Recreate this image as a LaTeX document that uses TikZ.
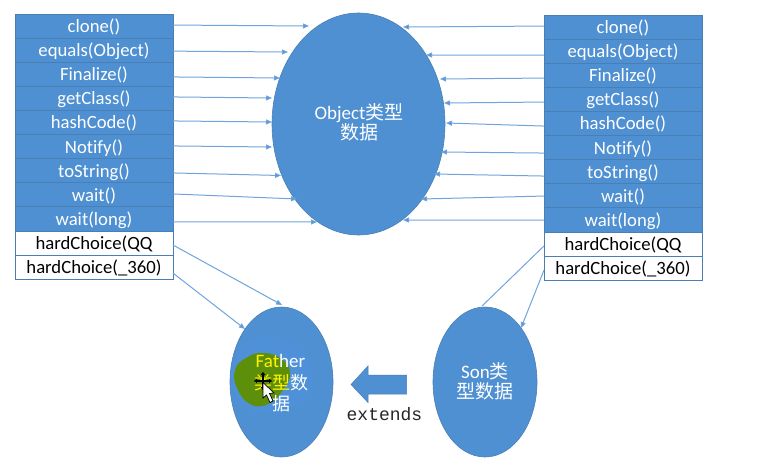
\documentclass[tikz,border=0pt]{standalone}
\usepackage{fontspec}
\setmainfont[Ligatures=NoCommon,Contextuals=NoAlternate]{Carlito}
\newfontfamily\cjkf{Noto Sans CJK SC}
\newfontfamily\monof{Liberation Mono}
\usetikzlibrary{arrows.meta,shapes.geometric}
\definecolor{fillb}{HTML}{4F90D2}
\definecolor{edgeb}{HTML}{4A7FB5}
\definecolor{lineb}{HTML}{6FA5DC}
\definecolor{blobg}{HTML}{5E8F0A}
\definecolor{halo}{HTML}{4E91D8}
\tikzset{
  x=1pt,y=-1pt,
  rowbase/.style={draw=edgeb,line width=0.8pt,minimum width=158pt,minimum height=24.1pt,inner sep=0pt,outer sep=0pt,font=\fontsize{18.7}{20}\selectfont,text height=15pt,text depth=2pt},
  rowblue/.style={rowbase,fill=fillb,text=white},
  rowwhite/.style={rowbase,fill=white,text=black},
  bubble/.style={ellipse,draw=edgeb,line width=0.6pt,fill=fillb,text=white,inner sep=0pt,outer sep=0pt,align=center},
  conn/.style={draw=lineb,line width=1pt,-{Triangle[length=6pt,width=5pt,fill=fillb]}},
  plainconn/.style={draw=lineb,line width=1pt},
  cjkt/.style={font=\fontsize{19}{20.5}\selectfont},
}
\begin{document}
\begin{tikzpicture}
\useasboundingbox (0,0) rectangle (760,463);
\fill[white] (0,0) rectangle (760,463);
% big ellipse
\node[bubble,minimum width=173pt,minimum height=222pt] (obj) at (358.5,124) {};
\node[text=white,cjkt,align=center] (objt) at (359,122.5) {Object{\cjkf 类型}\\{\cjkf 数据}};
% small ellipses
\node[bubble,minimum width=103pt,minimum height=150pt] (fa) at (281.5,382) {};
\node[bubble,minimum width=104pt,minimum height=150pt] (son) at (485,382) {};
\node[text=white,cjkt,align=center] (sont) at (485,381.5) {Son{\cjkf 类}\\{\cjkf 型数据}};
% tables
\foreach \i/\t [count=\n] in {1/clone(),2/equals(Object),3/Finalize(),4/getClass(),5/hashCode(),6/Notify(),7/toString(),8/wait(),9/wait(long)}{
  \node[rowblue] (l\i) at (94,14+12.05+24.1*\n-24.1) {\t};
  \node[rowblue] (r\i) at (623,15+12.05+24.1*\n-24.1) {\t};
}
\node[rowwhite] (l10) at (94,243) {hardChoice(QQ};
\node[rowwhite] (l11) at (94,267.1) {hardChoice(\_360)};
\node[rowwhite] (r10) at (623,244) {hardChoice(QQ};
\node[rowwhite] (r11) at (623,268.1) {hardChoice(\_360)};
% arrow ends
\foreach \nm/\x/\y in {la/309/26,lb/288/52,lc/280/78,ld/272/98,le/272/122,lf/272/147,lg/281/175.5,lh/297/199,li/317/222,lj/282/305,lk/245/329,
  ra/403/27,rb/426/55,rc/440/79,rd/444/103,re/446/123,rf/441/152,rg/434/174,rh/421/199,ri/403/220,rj/482/306,rk/521/328}
  \coordinate (\nm) at (\x,\y);
\foreach \a/\o/\e in {l1/1/la,l2/-1/lb,l3/-2.7/lc,l4/1.4/ld,l5/1.5/le,l6/0.6/lf,l7/-2.3/lg,l8/0.8/lh,l9/-3/li,l10/-2/lj,l11/-6/lk}
  \draw[conn] ([yshift=\o pt]\a.east) -- (\e);
\foreach \a/\o/\e in {r1/1/ra,r2/-3.9/rb,r3/-2.8/rc,r4/-2.7/rd,r5/-2.6/re,r6/-5.5/rf,r7/-4.4/rg,r8/-0.3/rh,r9/-0.2/ri,r11/-2/rk}
  \draw[conn] ([yshift=\o pt]\a.west) -- (\e);
\draw[plainconn] ([yshift=-2pt]r10.west) -- (rj);
% blob
\fill[halo] plot[smooth cycle,tension=0.8] coordinates {(238,352)(262,337)(295,345)(312,372)(303,398)(275,412)(244,405)(232,380)};
\fill[blobg] plot[smooth cycle,tension=0.8] coordinates {(246,358)(262,353)(280,358)(290,372)(283,390)(268,404)(250,404)(237,388)(235,370)};
\node[font=\fontsize{19}{20}\selectfont,inner sep=0pt] (fat1) at (280.5,361) {\textcolor{yellow}{Fat}\textcolor{white}{her}};
\node[font=\cjkf\fontsize{18}{20}\selectfont,inner sep=0pt] (fat2) at (281,383) {\textcolor{yellow}{类型}\textcolor{white}{数}};
\node[font=\cjkf\fontsize{18}{20}\selectfont,inner sep=0pt,text=white] (fat3) at (281,404) {据};
% cursor
\draw[black,line width=1.3pt,{Triangle[length=3pt,width=4.5pt]}-{Triangle[length=3pt,width=4.5pt]}] (254,381) -- (272,381);
\draw[black,line width=1.3pt,{Triangle[length=3pt,width=4.5pt]}-{Triangle[length=3pt,width=4.5pt]}] (263,372) -- (263,390);
\draw[black,fill=white,line width=0.7pt,line join=miter] (263,382.5) -- (263,398) -- (266.5,395) -- (270,402.5) -- (273,401) -- (269.5,393.5) -- (274,393) -- cycle;
% block arrow
\fill[fillb,draw=edgeb,line width=0.5pt] (351,384.5) -- (368,366) -- (368,375) -- (406.5,375) -- (406.5,394) -- (368,394) -- (368,402.5) -- cycle;
\node[font=\monof\fontsize{18}{20}\selectfont,text=black!85,inner sep=0pt] (ext) at (384.5,414) {extends};
\end{tikzpicture}
\end{document}
